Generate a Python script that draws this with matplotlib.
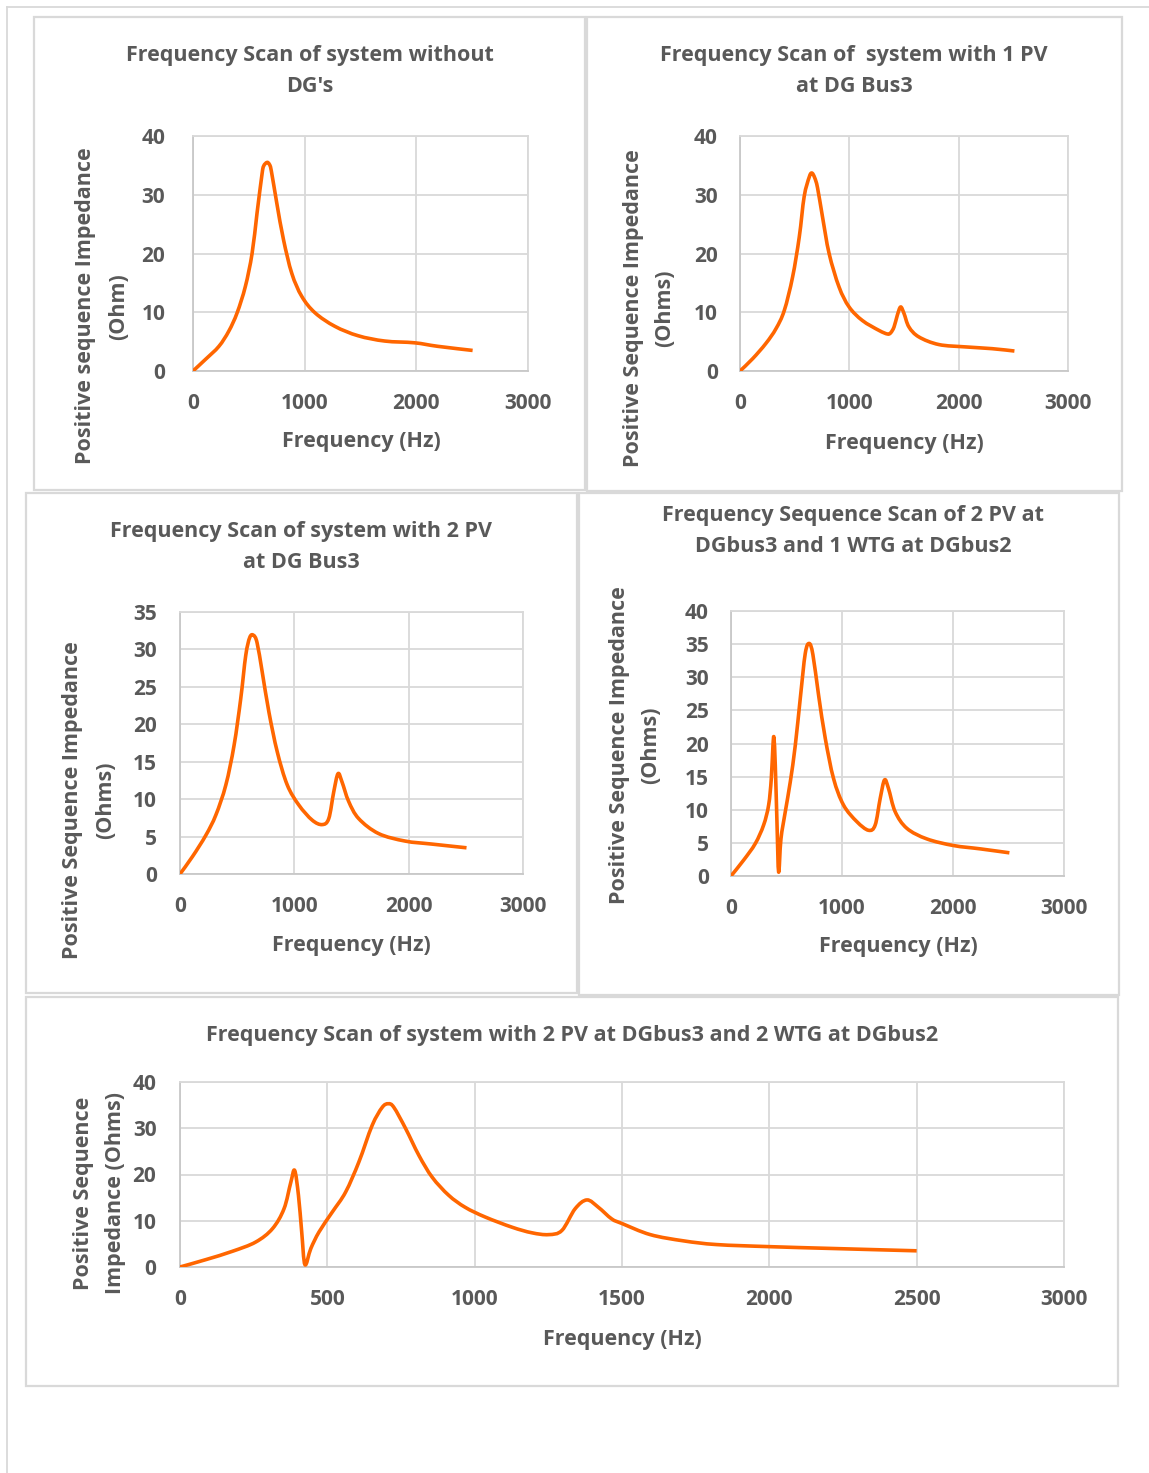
import matplotlib
matplotlib.use("Agg")
import matplotlib.pyplot as plt
from matplotlib.patches import Rectangle, PathPatch
from matplotlib.lines import Line2D
from matplotlib.path import Path

# frequency (Hz) / impedance (Ohm)
f1 = [0, 113, 232, 321, 395, 469, 529, 573, 618, 633, 662, 683, 701, 751, 811, 885, 974, 1093, 1271, 1479, 1717, 1984, 2192, 2504]
z1 = [0, 2.0, 4.2, 6.8, 9.9, 14.4, 20.0, 26.8, 33.5, 34.9, 35.5, 35.2, 34.1, 28.5, 22.3, 16.6, 12.7, 9.9, 7.6, 6.0, 5.1, 4.8, 4.2, 3.5]

f2 = [0, 116, 237, 329, 405, 481, 542, 587, 633, 657, 683, 709, 754, 815, 906, 998, 1119, 1272, 1348, 1378, 1409, 1439, 1469, 1500, 1545, 1636, 1819, 2063, 2306, 2510]
z2 = [0, 2.1, 4.7, 7.2, 10.3, 16.0, 22.8, 29.7, 33.0, 33.7, 32.9, 31.2, 26.3, 20.0, 14.3, 10.9, 8.6, 6.9, 6.3, 6.5, 7.5, 9.5, 10.9, 9.8, 7.5, 5.8, 4.5, 4.1, 3.8, 3.4]

f3 = [0, 110, 227, 314, 401, 473, 531, 575, 610, 642, 674, 720, 778, 851, 938, 1040, 1156, 1243, 1301, 1345, 1382, 1417, 1475, 1563, 1737, 1969, 2201, 2506]
z3 = [0, 2.35, 5.2, 7.9, 11.9, 17.2, 23.4, 29.2, 31.6, 31.9, 30.9, 26.9, 21.6, 16.3, 11.9, 9.2, 7.2, 6.6, 7.4, 11.0, 13.4, 12.3, 9.7, 7.4, 5.4, 4.4, 4.0, 3.5]

f4 = [0, 114, 219, 294, 339, 363, 378, 387, 399, 414, 429, 450, 489, 534, 579, 624, 669, 705, 738, 789, 849, 924, 1014, 1134, 1239, 1299, 1344, 1383, 1419, 1479, 1584, 1764, 2004, 2244, 2508]
z4 = [0, 2.4, 4.9, 7.7, 10.7, 14.7, 19.7, 20.9, 16.7, 8.2, 0.6, 5.6, 9.7, 14.2, 19.7, 26.8, 33.6, 35.1, 33.4, 27.3, 20.8, 14.7, 10.7, 8.2, 6.9, 7.7, 11.7, 14.5, 13.2, 9.7, 7.2, 5.6, 4.6, 4.1, 3.5]

f5 = [0, 88, 178, 257, 314, 353, 376, 389, 402, 413, 424, 444, 472, 517, 562, 607, 652, 686, 707, 726, 766, 811, 856, 912, 968, 1036, 1127, 1194, 1251, 1296, 1341, 1381, 1420, 1465, 1500, 1596, 1709, 1821, 2000, 2216, 2500]
z5 = [0, 1.6, 3.4, 5.4, 8.3, 12.6, 18.3, 20.9, 15.5, 7.6, 0.5, 4.0, 7.6, 11.9, 16.2, 22.7, 30.6, 34.5, 35.3, 34.5, 29.9, 24.1, 19.4, 15.5, 12.9, 10.8, 8.6, 7.4, 7.0, 7.9, 12.6, 14.5, 12.9, 10.4, 9.4, 7.0, 5.65, 4.85, 4.4, 4.0, 3.5]

W, H = 1149, 1473
TXT = "#595959"
GRID = "#d9d9d9"
ORANGE = "#ff6600"
FS = 15.5
TFS = 15

plt.rcParams["font.family"] = ["Open Sans", "DejaVu Sans"]
plt.rcParams["font.weight"] = "bold"

fig = plt.figure(figsize=(W / 100, H / 100), dpi=100)


def ftext(x, y, s, **kw):
    fig.text(x / W, 1 - y / H, s, ha="center", va="center", color=TXT,
             fontsize=FS, fontweight="bold", **kw)


def box(x0, y0, x1, y1):
    fig.add_artist(Rectangle((x0 / W, 1 - y1 / H), (x1 - x0) / W, (y1 - y0) / H,
                             transform=fig.transFigure, fill=False,
                             edgecolor=GRID, lw=1.6))


def smooth(x, y):
    # Excel-style smoothed line: bezier segments through the points
    verts = [(x[0], y[0])]
    codes = [Path.MOVETO]
    n = len(x)
    for i in range(n - 1):
        a = max(i - 1, 0)
        b = min(i + 2, n - 1)
        c1 = (x[i] + (x[i + 1] - x[a]) / 6, y[i] + (y[i + 1] - y[a]) / 6)
        c2 = (x[i + 1] - (x[b] - x[i]) / 6, y[i + 1] - (y[b] - y[i]) / 6)
        verts += [c1, c2, (x[i + 1], y[i + 1])]
        codes += [Path.CURVE4] * 3
    return Path(verts, codes)


def panel(rect, f, z, xticks, yticks, xpad=16, ypad=16):
    x0, y0, x1, y1 = rect
    ax = fig.add_axes([x0 / W, 1 - y1 / H, (x1 - x0) / W, (y1 - y0) / H])
    ax.add_patch(PathPatch(smooth(f, z), fill=False, edgecolor=ORANGE, lw=2.6,
                           capstyle="butt", joinstyle="round", zorder=3))
    ax.set_xlim(xticks[0], xticks[-1])
    ax.set_ylim(yticks[0], yticks[-1])
    ax.set_xticks(xticks)
    ax.set_yticks(yticks)
    ax.grid(True, color=GRID, lw=1.3)
    ax.set_axisbelow(True)
    for s in ax.spines.values():
        s.set_color(GRID)
        s.set_linewidth(1.3)
    ax.spines["left"].set_color("#c8c8c8")
    ax.spines["bottom"].set_color("#c8c8c8")
    ax.tick_params(axis="x", length=0, pad=xpad, labelsize=TFS, labelcolor=TXT)
    ax.tick_params(axis="y", length=0, pad=ypad, labelsize=TFS, labelcolor=TXT)
    for lab in ax.get_xticklabels() + ax.get_yticklabels():
        lab.set_fontweight("bold")
    return ax


# page border lines
fig.add_artist(Line2D([7 / W, 1], [1 - 7 / H, 1 - 7 / H], transform=fig.transFigure, color=GRID, lw=1.3))
fig.add_artist(Line2D([7 / W, 7 / W], [1 - 7 / H, 0], transform=fig.transFigure, color=GRID, lw=1.3))

# chart boxes
box(34, 17, 585, 490)
box(587, 17, 1122, 491)
box(26, 493, 577, 993)
box(579, 493, 1119, 995)
box(26, 997, 1118, 1386)

# panel 1
panel((193, 136, 528, 371), f1, z1, [0, 1000, 2000, 3000], [0, 10, 20, 30, 40], ypad=20)
ftext(310, 55, "Frequency Scan of system without")
ftext(310, 87, "DG's")
ftext(86, 306, "Positive sequence Impedance", rotation=90)
ftext(119, 307, "(Ohm)", rotation=90)
ftext(361, 442, "Frequency (Hz)")

# panel 2
panel((740, 136, 1068, 371), f2, z2, [0, 1000, 2000, 3000], [0, 10, 20, 30, 40], ypad=16)
ftext(854, 55, "Frequency Scan of  system with 1 PV")
ftext(854, 87, "at DG Bus3")
ftext(633, 308, "Positive Sequence Impedance", rotation=90)
ftext(665, 308, "(Ohms)", rotation=90)
ftext(904, 443, "Frequency (Hz)")

# panel 3
panel((180, 612, 523, 874), f3, z3, [0, 1000, 2000, 3000], [0, 5, 10, 15, 20, 25, 30, 35], ypad=16.5)
ftext(301, 531, "Frequency Scan of system with 2 PV")
ftext(301, 563, "at DG Bus3")
ftext(73, 800, "Positive Sequence Impedance", rotation=90)
ftext(106, 800, "(Ohms)", rotation=90)
ftext(351, 945, "Frequency (Hz)")

# panel 4
panel((731, 611, 1064, 876), f4, z4, [0, 1000, 2000, 3000], [0, 5, 10, 15, 20, 25, 30, 35, 40], ypad=16)
ftext(853, 516, "Frequency Sequence Scan of 2 PV at")
ftext(853, 547, "DGbus3 and 1 WTG at DGbus2")
ftext(619, 745, "Positive Sequence Impedance", rotation=90)
ftext(651, 745, "(Ohms)", rotation=90)
ftext(898, 947, "Frequency (Hz)")

# panel 5
panel((180, 1082, 1064, 1267), f5, z5, [0, 500, 1000, 1500, 2000, 2500, 3000], [0, 10, 20, 30, 40], ypad=17)
ftext(572, 1035, "Frequency Scan of system with 2 PV at DGbus3 and 2 WTG at DGbus2")
ftext(83, 1193, "Positive Sequence", rotation=90)
ftext(115, 1193, "Impedance (Ohms)", rotation=90)
ftext(622, 1339, "Frequency (Hz)")

fig.savefig("out.png", dpi=100, facecolor="white")
